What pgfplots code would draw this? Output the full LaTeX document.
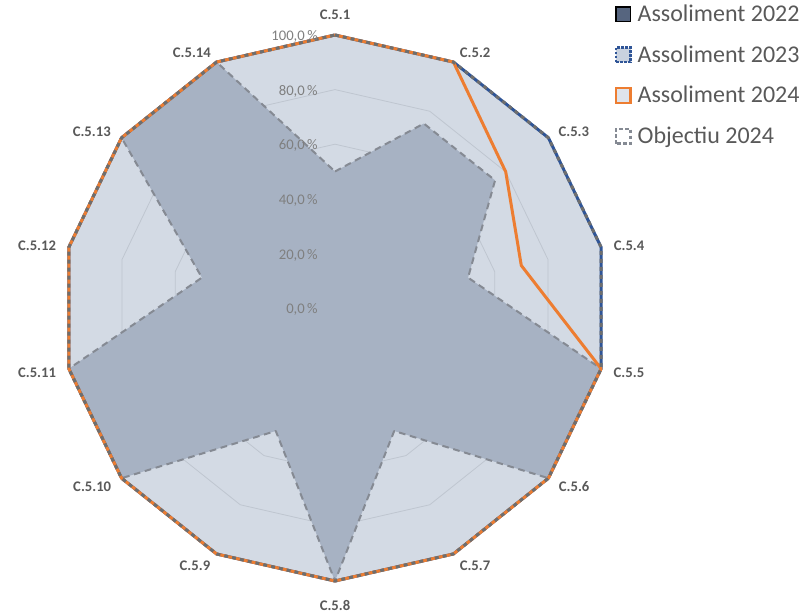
\documentclass[border=0pt]{standalone}
\usepackage{fontspec}
\setmainfont{Carlito}
\usepackage{pgfplots}
\usepackage{pgfplotstable}
\pgfplotsset{compat=1.18}
\usepgfplotslibrary{polar}

\definecolor{fillout}{HTML}{D3DAE4}
\definecolor{fillstar}{HTML}{A7B2C3}
\definecolor{gridc}{HTML}{BFC6D0}
\definecolor{orangec}{HTML}{ED7D31}
\definecolor{bluec}{HTML}{2F5597}
\definecolor{dashc}{HTML}{6E6E6E}
\definecolor{stardash}{HTML}{858A93}
\definecolor{txt}{HTML}{595959}
\definecolor{ticktxt}{HTML}{7F7F7F}
\definecolor{c22}{HTML}{56657F}
\definecolor{c23}{HTML}{C9D2DF}

\pgfplotstableread{
angle a2022 a2023 a2024 obj g20 g40 g60 g80
90 100 100 100 50 20 40 60 80
64.2857 100 100 100 75 20 40 60 80
38.5714 100 100 80 75 20 40 60 80
12.8571 100 100 70 50 20 40 60 80
-12.8571 100 100 100 100 20 40 60 80
-38.5714 100 100 100 100 20 40 60 80
-64.2857 100 100 100 50 20 40 60 80
-90 100 100 100 100 20 40 60 80
-115.7143 100 100 100 50 20 40 60 80
-141.4286 100 100 100 100 20 40 60 80
-167.1429 100 100 100 100 20 40 60 80
-192.8571 100 100 100 50 20 40 60 80
-218.5714 100 100 100 100 20 40 60 80
-244.2857 100 100 100 100 20 40 60 80
-270 100 100 100 50 20 40 60 80
}\data

\begin{document}
\begin{tikzpicture}
\path[use as bounding box] (-251.25pt,-231pt) rectangle (356.25pt,231pt);
\begin{polaraxis}[
  at={(0,0)}, anchor=center,
  scale only axis, width=409.5pt, height=409.5pt,
  ymin=0, ymax=100,
  hide axis,
  clip=false,
  legend style={at={(axis description cs:1.012,1.058)}, anchor=north west,
    draw=none, fill=none, inner sep=0pt, row sep=14.5pt,
    font=\fontsize{18}{20}\selectfont, text=txt,
    nodes={inner sep=1pt}},
  legend cell align=left,
]
% outer fill (Assoliment 2022 area)
\addplot[draw=none, fill=fillout, forget plot] table[x=angle, y=a2022] {\data};
% grid polygons
\addplot[gridc, line width=0.6pt, forget plot] table[x=angle, y=g20] {\data};
\addplot[gridc, line width=0.6pt, forget plot] table[x=angle, y=g40] {\data};
\addplot[gridc, line width=0.6pt, forget plot] table[x=angle, y=g60] {\data};
\addplot[gridc, line width=0.6pt, forget plot] table[x=angle, y=g80] {\data};
% objective star fill
\addplot[draw=none, fill=fillstar, forget plot] table[x=angle, y=obj] {\data};
\addplot[stardash, line width=1.5pt, dash pattern=on 5pt off 3.5pt, line join=round, forget plot] table[x=angle, y=obj] {\data};
% Assoliment 2023 outline
\addplot[bluec, line width=2.25pt, line join=round, forget plot] table[x=angle, y=a2023] {\data};
% Assoliment 2024
\addplot[orangec, line width=2.25pt, line join=round, forget plot] table[x=angle, y=a2024] {\data};
% Assoliment 2022 outline
\addplot[dashc, line width=2.25pt, dash pattern=on 3pt off 3pt, forget plot] table[x=angle, y=a2022] {\data};

\addlegendimage{legend image code/.code={\draw[fill=c22, draw=black, line width=1.2pt] (0pt,-5.5pt) rectangle (11pt,5.5pt); \path (15pt,0pt);}}
\addlegendentry{Assoliment 2022}
\addlegendimage{legend image code/.code={\draw[fill=c23, draw=bluec, line width=1.8pt, dash pattern=on 1.8pt off 1.2pt] (0pt,-5.5pt) rectangle (11pt,5.5pt); \path (15pt,0pt);}}
\addlegendentry{Assoliment 2023}
\addlegendimage{legend image code/.code={\draw[fill=c23!60!white, draw=orangec, line width=1.8pt] (0pt,-5.5pt) rectangle (11pt,5.5pt); \path (15pt,0pt);}}
\addlegendentry{Assoliment 2024}
\addlegendimage{legend image code/.code={\draw[fill=white, draw=stardash, line width=1.8pt, dash pattern=on 2.5pt off 2pt] (0pt,-5.5pt) rectangle (11pt,5.5pt); \path (15pt,0pt);}}
\addlegendentry{Objectiu 2024}

% radial tick labels
\foreach \v/\t in {0/{0,0},20/{20,0},40/{40,0},60/{60,0},80/{80,0},100/{100,0}} {
  \edef\temp{\noexpand\node[anchor=east, text=ticktxt, font=\noexpand\fontsize{11}{13}\noexpand\selectfont, xshift=-12.75pt, yshift=-1.2pt, inner sep=0pt] at (axis cs:90,\v) {\t\noexpand\,\noexpand\%};}
  \temp
}

% category labels
\tikzset{cat/.style={font=\bfseries\fontsize{11}{13}\selectfont, text=txt, inner sep=0pt}}
\node[cat] at (axis cs:90,107.3) {C.5.1};
\node[cat] at (axis cs:61.2,106.6) {C.5.2};
\node[cat] at (axis cs:36.4,108.7) {C.5.3};
\node[cat] at (axis cs:11.9,110.1) {C.5.4};
\node[cat] at (axis cs:-12.5,110.3) {C.5.5};
\node[cat] at (axis cs:-36.8,109.4) {C.5.6};
\node[cat] at (axis cs:-61.5,107.5) {C.5.7};
\node[cat] at (axis cs:-90,108.8) {C.5.8};
\node[cat] at (axis cs:-118.5,107.5) {C.5.9};
\node[cat] at (axis cs:216.4,110.5) {C.5.10};
\node[cat] at (axis cs:192.3,111.7) {C.5.11};
\node[cat] at (axis cs:168.2,111.5) {C.5.12};
\node[cat] at (axis cs:144.1,110) {C.5.13};
\node[cat] at (axis cs:119.3,107.1) {C.5.14};
\end{polaraxis}
\end{tikzpicture}
\end{document}
